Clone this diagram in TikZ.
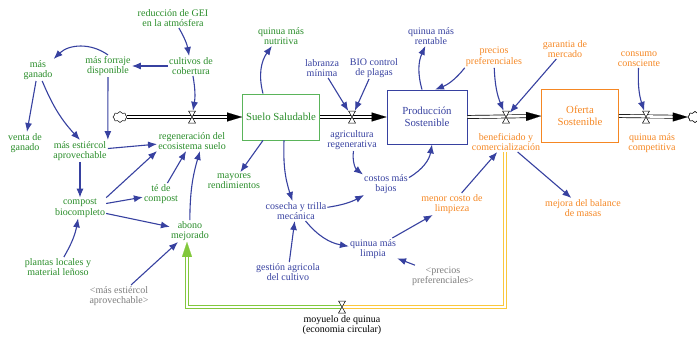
\documentclass[tikz,border=0pt]{standalone}
\usepackage{fontspec}
\setmainfont{Liberation Serif}
\usetikzlibrary{arrows.meta,shapes.symbols}
\definecolor{vgreen}{RGB}{40,140,40}
\definecolor{sgreen}{RGB}{90,180,90}
\definecolor{vblue}{RGB}{55,65,160}
\definecolor{vorange}{RGB}{245,135,35}
\definecolor{vgray}{RGB}{125,125,125}
\definecolor{lgreen}{RGB}{130,200,60}
\definecolor{lyellow}{RGB}{250,200,60}
\begin{document}
\begin{tikzpicture}[x=1pt,y=-1pt,
  lbl/.style={align=center,font=\fontsize{10}{10.5}\selectfont,inner sep=1pt},
  gv/.style={lbl,text=vgreen},
  bv/.style={lbl,text=vblue},
  ov/.style={lbl,text=vorange},
  sv/.style={lbl,text=vgray},
  stockbox/.style={lbl,draw,line width=0.8pt,font=\fontsize{10.8}{12}\selectfont},
  lnk/.style={draw=vblue,line width=1.1pt,-{Latex[length=9pt,width=7pt]}},
  pipe/.style={draw=black,double=white,double distance=2.4pt,line width=0.7pt},
  flowtip/.style={draw=white,line width=0.1pt,-{Triangle[length=15pt,width=9pt,color=black,fill=black]}},
  ypipe/.style={draw=lyellow,double=white,double distance=2pt,line width=0.9pt},
  gpipe/.style={draw=lgreen,double=white,double distance=2pt,line width=0.9pt},
  gtip/.style={draw=white,line width=0.1pt,-{Triangle[length=15pt,width=10pt,color=lgreen,fill=lgreen]}},
  vbox/.style={inner sep=0pt,minimum width=7pt,minimum height=12pt},
  valve/.pic={\draw[fill=white,line width=0.5pt] (-3.5,-6)--(3.5,-6)--(-3.5,6)--(3.5,6)--cycle;},
  cl/.style={cloud,draw,fill=white,cloud puffs=8,minimum width=14pt,minimum height=11pt,inner sep=0pt,line width=0.5pt}
]
\useasboundingbox (0,0) rectangle (697,338);

% stocks
\node[stockbox,draw=sgreen,text=vgreen,minimum width=77pt,minimum height=46pt] (suelo) at (281,117) {Suelo Saludable};
\node[stockbox,draw=vblue,text=vblue,minimum width=80pt,minimum height=54pt] (prod) at (427,117) {Producción\\Sostenible};
\node[stockbox,draw=vorange,text=vorange,minimum width=77pt,minimum height=53pt] (ofer) at (580,116) {Oferta\\Sostenible};

% clouds and valves
\node[cl] (cl1) at (120,117) {};
\node[cl] (cl2) at (695,117) {};
\node[vbox] (v1) at (192,117) {};
\node[vbox] (v2) at (352,117) {};
\node[vbox] (v3) at (506,117) {};
\node[vbox] (v4) at (646,117) {};

% main flows
\draw[pipe,shorten >=12pt] (cl1) -- (suelo.west);
\draw[flowtip] (v1) -- (suelo.west);
\draw[pipe,shorten >=12pt] (suelo.east) -- (prod.west);
\draw[flowtip] (v2) -- (prod.west);
\draw[pipe,shorten >=12pt] (prod.east) -- (ofer.west);
\draw[flowtip] (v3) -- (ofer.west);
\draw[pipe,shorten >=12pt] (ofer.east) -- (cl2);
\draw[flowtip] (v4) -- (cl2.west);
\node[cl] at (cl2) {};

% green variables
\node[gv] (gei) at (173,18) {reducción de GEI\\en la atmósfera};
\node[gv] (cult) at (191,66) {cultivos de\\cobertura};
\node[gv] (forr) at (108,66) {más forraje\\disponible};
\node[gv] (gan) at (38,70) {más\\ganado};
\node[gv] (venta) at (25,143) {venta de\\ganado};
\node[gv] (estier) at (80,151) {más estiércol\\aprovechable};
\node[gv] (regen) at (192,141) {regeneración del\\ecosistema suelo};
\node[gv] (comp) at (80,208) {compost\\biocompleto};
\node[gv] (te) at (161,194) {té de\\compost};
\node[gv] (abono) at (190,231) {abono\\mejorado};
\node[gv] (plant) at (58,267) {plantas locales y\\material leñoso};
\node[sv] (estier2) at (119,296) {<más estiércol\\aprovechable>};
\node[gv] (nutr) at (281,36) {quinua más\\nutritiva};
\node[gv] (mayor) at (234,181) {mayores\\rendimientos};

% blue variables
\node[bv] (lab) at (322,68) {labranza\\mínima};
\node[bv] (bio) at (374,68) {BIO control\\de plagas};
\node[bv] (agri) at (352,140) {agricultura\\regenerativa};
\node[bv] (rent) at (431,36) {quinua más\\rentable};
\node[bv] (cost) at (386,184) {costos más\\bajos};
\node[bv] (cose) at (296,211) {cosecha y trilla\\mecánica};
\node[bv] (limp) at (373,249) {quinua más\\limpia};
\node[bv] (gest) at (288,272) {gestión agricola\\del cultivo};
\node[sv] (prec2) at (443,276) {<precios\\preferenciales>};

% orange variables
\node[ov] (prec) at (494,57) {precios\\preferenciales};
\node[ov] (gar) at (565,49) {garantia de\\mercado};
\node[ov] (cons) at (639,59) {consumo\\consciente};
\node[ov] (ben) at (506,142) {beneficiado y\\comercialización};
\node[ov] (compet) at (652,143) {quinua más\\competitiva};
\node[ov] (menor) at (452,204) {menor costo de\\limpieza};
\node[ov] (mejora) at (583,208) {mejora del balance\\de masas};

% moyuelo flow
\node[vbox] (vm) at (342,307) {};
\node[lbl] (moy) at (342,325) {moyuelo de quinua\\(economia circular)};
\draw[ypipe] ([xshift=-1pt]ben.south) |- (vm.center);
\draw[gpipe,shorten >=12pt] (vm.center) -| ([xshift=-3pt]abono.south);
\draw[gtip] ([xshift=-3pt,yshift=-15pt]abono.south) -- ([xshift=-3pt]abono.south);

% valves on top
\pic at (v1) {valve};
\pic at (v2) {valve};
\pic at (v3) {valve};
\pic at (v4) {valve};
\pic at (vm) {valve};

% links
\draw[lnk] (gei) to[bend left=10] (cult);
\draw[lnk] (cult) -- (forr);
\draw[lnk] (forr.north) to[bend right=40] (gan.north east);
\draw[lnk] (gan) -- (venta);
\draw[lnk] (gan) to[bend right=10] (estier.north);
\draw[lnk] (forr) -- (estier.north east);
\draw[lnk] (cult) to[bend left=10] (v1);
\draw[lnk] (estier) -- (regen);
\draw[lnk] (comp.north east) -- (regen.south west);
\draw[lnk] (comp) -- (te);
\draw[lnk] (comp) -- (abono);
\draw[lnk] (te) -- (regen);
\draw[lnk] (abono) to[bend left=8] ([xshift=8pt]regen.south);
\draw[lnk] (estier) -- (comp);
\draw[lnk] (plant) to[bend right=10] (comp);
\draw[lnk] (estier2) -- (abono);
\draw[lnk] ([xshift=-18pt]suelo.north) to[bend left=25] (nutr);
\draw[lnk] ([xshift=-18pt]suelo.south) -- (mayor);
\draw[lnk] ([xshift=3pt]suelo.south) to[bend right=10] (cose);
\draw[lnk] (lab) -- (v2);
\draw[lnk] (bio) -- (v2);
\draw[lnk] (agri) to[bend right=30] (cost);
\draw[lnk] (cost) to[bend right=25] ([xshift=5pt]prod.south);
\draw[lnk] (cose) to[bend right=10] (cost);
\draw[lnk] (cose) to[bend right=20] (limp);
\draw[lnk] (gest) -- (cose);
\draw[lnk] (prec2) -- (limp);
\draw[lnk] (limp) -- (menor);
\draw[lnk] (menor) -- (ben);
\draw[lnk] (ben) -- (mejora);
\draw[lnk] ([xshift=-5pt]prod.north) to[bend left=20] (rent);
\draw[lnk] (prec.south west) to[bend left=15] ([xshift=8pt]prod.north);
\draw[lnk] (prec) to[bend right=10] (v3);
\draw[lnk] (gar) -- (v3);
\draw[lnk] (cons) to[bend right=10] (v4);
\end{tikzpicture}
\end{document}
